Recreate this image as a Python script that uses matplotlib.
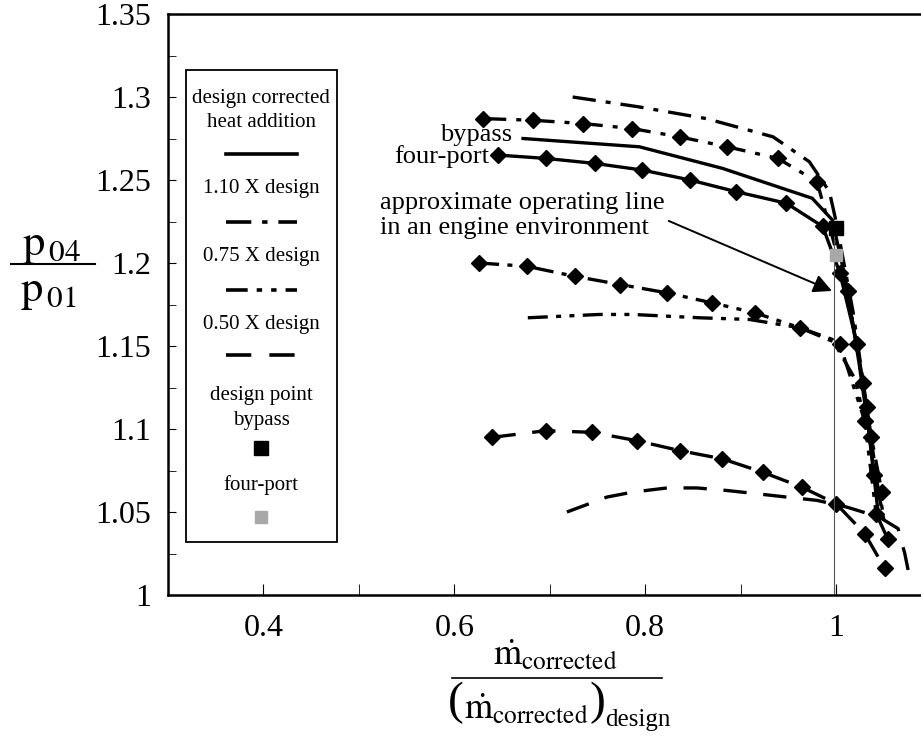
import numpy as np
import matplotlib.pyplot as plt
from matplotlib.patches import Rectangle

plt.rcParams['font.family'] = ['Liberation Serif', 'DejaVu Serif']
plt.rcParams['mathtext.fontset'] = 'stix'

# four-port runs (diamond markers)
fp_100_x = [0.646, 0.696, 0.747, 0.797, 0.847, 0.895, 0.948, 0.986, 1.004, 1.022, 1.032, 1.040]
fp_100_y = [1.265, 1.263, 1.260, 1.256, 1.250, 1.243, 1.236, 1.222, 1.194, 1.151, 1.113, 1.072]
fp_110_x = [0.630, 0.682, 0.735, 0.786, 0.836, 0.886, 0.939, 0.980, 1.012, 1.028, 1.037, 1.048]
fp_110_y = [1.287, 1.286, 1.284, 1.281, 1.276, 1.270, 1.263, 1.249, 1.183, 1.128, 1.095, 1.062]
fp_075_x = [0.626, 0.676, 0.726, 0.774, 0.823, 0.870, 0.915, 0.962, 1.004, 1.030, 1.042, 1.054]
fp_075_y = [1.200, 1.198, 1.192, 1.187, 1.182, 1.176, 1.170, 1.161, 1.151, 1.105, 1.049, 1.034]
fp_050_x = [0.640, 0.696, 0.744, 0.791, 0.836, 0.881, 0.923, 0.964, 1.000, 1.030, 1.051]
fp_050_y = [1.095, 1.099, 1.098, 1.093, 1.087, 1.082, 1.074, 1.065, 1.055, 1.037, 1.016]

# bypass runs (no markers)
bp_100_x = [0.672, 0.794, 0.881, 0.975, 0.996, 1.010, 1.024, 1.034, 1.042, 1.045]
bp_100_y = [1.275, 1.270, 1.257, 1.239, 1.226, 1.190, 1.140, 1.100, 1.060, 1.045]
bp_110_x = [0.724, 0.794, 0.864, 0.934, 0.972, 0.993, 1.000, 1.018, 1.033, 1.045, 1.052]
bp_110_y = [1.300, 1.294, 1.287, 1.276, 1.261, 1.243, 1.225, 1.170, 1.110, 1.060, 1.040]
bp_075_x = [0.677, 0.752, 0.787, 0.857, 0.909, 0.962, 0.996, 1.020, 1.036, 1.049]
bp_075_y = [1.167, 1.169, 1.169, 1.167, 1.166, 1.161, 1.154, 1.130, 1.090, 1.050]
bp_050_x = [0.718, 0.760, 0.787, 0.823, 0.854, 0.885, 0.917, 0.948, 0.980, 1.011, 1.045, 1.065, 1.072, 1.078]
bp_050_y = [1.050, 1.059, 1.062, 1.0645, 1.0645, 1.063, 1.061, 1.059, 1.057, 1.053, 1.047, 1.040, 1.025, 1.008]

design_bypass = (1.0, 1.221)
design_fourport = (1.0, 1.205)
op_line_x = [0.998, 0.998]
op_line_y = [1.0, 1.22]

styles = {
    'solid': '-',
    'dashdot': (0, (7, 3, 1.5, 3)),
    'dashdotdot': (0, (6, 2.5, 1.5, 2.5, 1.5, 2.5)),
    'dashed': (0, (7, 5)),
}

fig = plt.figure(figsize=(9.21, 7.42), dpi=100)
ax = fig.add_axes([168 / 921, 147 / 742, 753 / 921, 581 / 742])

lw = 2.4
for x, y, ls in [(bp_100_x, bp_100_y, styles['solid']),
                 (bp_110_x, bp_110_y, styles['dashdot']),
                 (bp_075_x, bp_075_y, styles['dashdotdot']),
                 (bp_050_x, bp_050_y, styles['dashed'])]:
    ax.plot(x, y, color='black', lw=lw, ls=ls)

for x, y, ls in [(fp_100_x, fp_100_y, styles['solid']),
                 (fp_110_x, fp_110_y, styles['dashdot']),
                 (fp_075_x, fp_075_y, styles['dashdotdot']),
                 (fp_050_x, fp_050_y, styles['dashed'])]:
    ax.plot(x, y, color='black', lw=lw, ls=ls, marker='D', ms=8)

ax.plot(op_line_x, op_line_y, color='#555555', lw=0.8)
ax.plot(*design_bypass, marker='s', ms=10, color='black', ls='none', zorder=5)
ax.plot(*design_fourport, marker='s', ms=9, color='#a8a8a8', ls='none', zorder=5)

ax.set_xlim(0.3, 1.089)
ax.set_ylim(1.0, 1.35)
ax.set_xticks([0.4, 0.6, 0.8, 1.0])
ax.set_xticklabels(['0.4', '0.6', '0.8', '1'])
ax.set_xticks(np.arange(0.3, 1.09, 0.1), minor=True)
ax.set_yticks([1.0, 1.05, 1.1, 1.15, 1.2, 1.25, 1.3, 1.35])
ax.set_yticklabels(['1', '1.05', '1.1', '1.15', '1.2', '1.25', '1.3', '1.35'])
ax.set_yticks(np.arange(1.0, 1.351, 0.025), minor=True)
ax.tick_params(which='both', direction='in', labelsize=23)
ax.tick_params(axis='y', which='major', length=6, pad=12)
ax.tick_params(axis='y', which='minor', length=6)
ax.tick_params(axis='x', which='major', length=8, pad=14)
ax.tick_params(axis='x', which='minor', length=8)
ax.spines['right'].set_visible(False)
for s in ['left', 'top', 'bottom']:
    ax.spines[s].set_linewidth(1.8)

# curve labels and operating line note
ax.text(0.661, 1.2771, 'bypass', fontsize=19, ha='right', va='center')
ax.text(0.637, 1.2639, 'four-port', fontsize=19, ha='right', va='center')
ax.text(0.522, 1.2361, 'approximate operating line', fontsize=19, ha='left', va='center')
ax.text(0.522, 1.2211, 'in an engine environment', fontsize=19, ha='left', va='center')
ax.annotate('', xy=(0.9984, 1.1825), xytext=(0.822, 1.226),
            arrowprops=dict(arrowstyle='-|>', lw=1.4, color='black', mutation_scale=28))

# legend box
T = ax.transAxes
ax.add_patch(Rectangle((0.024, 0.091), 0.200, 0.813, transform=T, fill=False,
                       lw=1.3, ec='black', zorder=6))
cx = 0.124
half = 0.047
leg_text = [('design corrected', 0.855), ('heat addition', 0.814),
            ('1.10 X design', 0.699), ('0.75 X design', 0.582),
            ('0.50 X design', 0.465), ('design point', 0.344),
            ('bypass', 0.301), ('four-port', 0.189)]
for s, yy in leg_text:
    ax.text(cx, yy, s, transform=T, fontsize=15, ha='center', va='center')
for key, yy in [('solid', 0.759), ('dashdot', 0.642), ('dashdotdot', 0.525), ('dashed', 0.413)]:
    ax.plot([cx - half, cx + half], [yy, yy], transform=T, color='black', lw=2.6, ls=styles[key])
ax.plot([cx], [0.253], transform=T, marker='s', ms=10, color='black')
ax.plot([cx], [0.134], transform=T, marker='s', ms=8, color='#a8a8a8')

# y label as fraction
fig.text(52 / 921, 1 - 246 / 742, r'$\mathrm{p}_{\,04}$', fontsize=32, ha='center', va='center')
fig.lines.append(plt.Line2D([11 / 921, 95 / 921], [1 - 264 / 742, 1 - 264 / 742],
                            transform=fig.transFigure, color='black', lw=1.5))
fig.text(48 / 921, 1 - 292 / 742, r'$\mathrm{p}_{\,01}$', fontsize=32, ha='center', va='center')

# x label as fraction
fig.text(555 / 921, 1 - 656 / 742, r'$\dot{\mathrm{m}}_{\mathrm{corrected}}$', fontsize=26,
         ha='center', va='center')
fig.lines.append(plt.Line2D([452 / 921, 662 / 921], [1 - 678 / 742, 1 - 678 / 742],
                            transform=fig.transFigure, color='black', lw=1.2))
fig.text(456 / 921, 1 - 703 / 742, '(', fontsize=34, ha='center', va='center')
fig.text(526 / 921, 1 - 710 / 742, r'$\dot{\mathrm{m}}_{\mathrm{corrected}}$', fontsize=26,
         ha='center', va='center')
fig.text(597 / 921, 1 - 703 / 742, ')', fontsize=34, ha='center', va='center')
fig.text(605 / 921, 1 - 720 / 742, 'design', fontsize=18, ha='left', va='center')

fig.savefig('out.png', dpi=100)
